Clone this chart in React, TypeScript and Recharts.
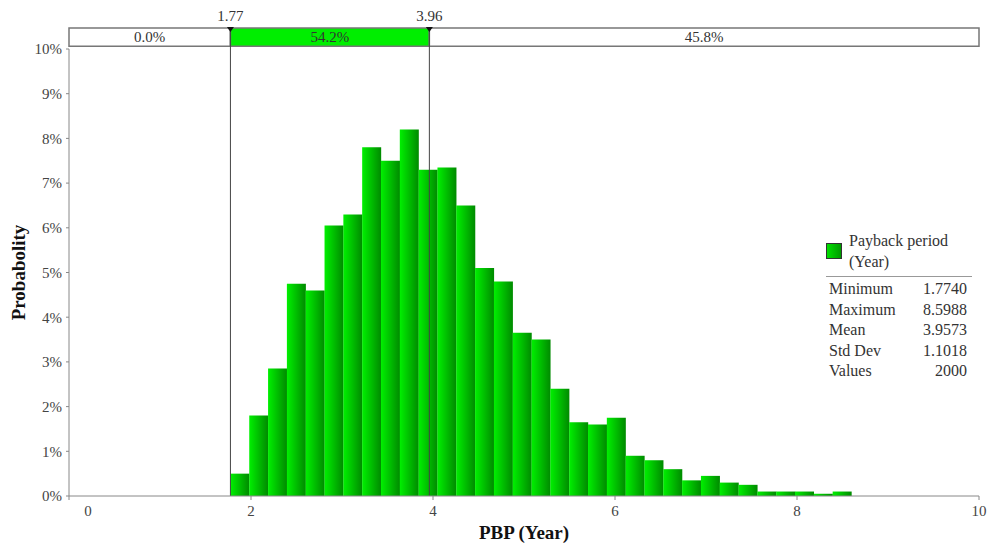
import {
  Bar,
  ComposedChart,
  Label,
  ReferenceArea,
  ReferenceLine,
  XAxis,
  YAxis,
} from "recharts";

// histogram bins (centre of each bin, in years) and share of the 2000 values (%)
const binCenters = [
  1.8774, 2.0842, 2.291, 2.4978, 2.7046, 2.9115, 3.1183, 3.3251, 3.5319, 3.7387,
  3.9455, 4.1523, 4.3591, 4.5659, 4.7727, 4.9796, 5.1864, 5.3932, 5.6, 5.8068,
  6.0136, 6.2204, 6.4272, 6.634, 6.8408, 7.0477, 7.2545, 7.4613, 7.6681, 7.8749,
  8.0817, 8.2885, 8.4953,
];
const probability = [
  0.5, 1.8, 2.85, 4.75, 4.6, 6.05, 6.3, 7.8, 7.5, 8.2,
  7.3, 7.35, 6.5, 5.1, 4.8, 3.65, 3.5, 2.4, 1.65, 1.6,
  1.75, 0.9, 0.8, 0.6, 0.35, 0.45, 0.3, 0.25, 0.1, 0.1,
  0.1, 0.05, 0.1,
];

const xTicks = [0, 2, 4, 6, 8, 10];
const yTicks = [0, 1, 2, 3, 4, 5, 6, 7, 8, 9, 10];

// delimiters on the top band
const markers = [1.774, 3.96];
const markerLabels = ["1.77", "3.96"];
const segmentEdges = [0, 1.774, 3.96, 10];
const segmentShares = ["0.0%", "54.2%", "45.8%"];

const statNames = ["Minimum", "Maximum", "Mean", "Std Dev", "Values"];
const statValues = ["1.7740", "8.5988", "3.9573", "1.1018", "2000"];

const serif = '"Liberation Serif", "Times New Roman", serif';
const bandBottom = 10.06;
const bandTop = 10.47;

const XTick = (props: any) => {
  const { x, y, payload } = props;
  // the first label sits off the y axis, like the original
  const dx = payload.value === 0 ? 19 : 0;
  return (
    <text x={x + dx} y={y} dy="0.71em" textAnchor="middle" fontFamily={serif} fontSize={15} fill="#444">
      {payload.value}
    </text>
  );
};

const MarkerLabel = (props: any) => {
  const { viewBox, value } = props;
  const x = viewBox.x;
  const y = viewBox.y;
  return (
    <g>
      <path d={`M${x - 3.5},${y - 1} L${x + 3.5},${y - 1} L${x},${y + 4} Z`} fill="#111" />
      <text x={x} y={y - 7} textAnchor="middle" fontFamily={serif} fontSize={15} fill="#333">
        {value}
      </text>
    </g>
  );
};

export default function App() {
  const data = binCenters.map((x, i) => ({ x, p: probability[i] }));

  return (
    <div style={{ position: "absolute", left: 0, top: 0, width: 989, height: 543, background: "#fff" }}>
      <ComposedChart
        width={989}
        height={543}
        data={data}
        margin={{ top: 49, right: 10, bottom: 0, left: 0 }}
        barCategoryGap={0}
        barGap={0}
      >
        <defs>
          <linearGradient id="binFill" x1="0" y1="0" x2="1" y2="0">
            <stop offset="0%" stopColor="#00f000" />
            <stop offset="100%" stopColor="#008a00" />
          </linearGradient>
        </defs>
        <XAxis
          type="number"
          dataKey="x"
          domain={[0, 10]}
          ticks={xTicks}
          allowDataOverflow
          height={47}
          stroke="#888"
          tickSize={4}
          tickMargin={5}
          tick={<XTick />}
        >
          <Label
            content={(p: any) => (
              <text
                x={p.viewBox.x + p.viewBox.width / 2}
                y={p.viewBox.y + 43}
                textAnchor="middle"
                fontFamily={serif}
                fontWeight="bold"
                fontSize={19}
                fill="#111"
              >
                PBP (Year)
              </text>
            )}
          />
        </XAxis>
        <YAxis
          domain={[0, 10]}
          ticks={yTicks}
          width={69}
          stroke="#888"
          tickSize={3}
          tickMargin={4}
          tickFormatter={(v: number) => `${v}%`}
          tick={{ fontFamily: serif, fontSize: 15, fill: "#444" }}
          allowDataOverflow
        >
          <Label
            content={(p: any) => {
              const cx = p.viewBox.x + 18;
              const cy = p.viewBox.y + p.viewBox.height / 2;
              return (
                <text
                  x={cx}
                  y={cy}
                  transform={`rotate(-90 ${cx} ${cy})`}
                  textAnchor="middle"
                  dominantBaseline="central"
                  fontFamily={serif}
                  fontWeight="bold"
                  fontSize={19}
                  fill="#111"
                >
                  Probabolity
                </text>
              );
            }}
          />
        </YAxis>
        <Bar dataKey="p" fill="url(#binFill)" isAnimationActive={false} />
        {segmentShares.map((share, i) => (
          <ReferenceArea
            key={share}
            x1={segmentEdges[i]}
            x2={segmentEdges[i + 1]}
            y1={bandBottom}
            y2={bandTop}
            ifOverflow="visible"
            fill={i === 1 ? "#00ee00" : "#fff"}
            fillOpacity={1}
            stroke="#777"
            strokeWidth={1.5}
            label={{ value: share, position: "center", fontFamily: serif, fontSize: 15, fill: "#333" }}
          />
        ))}
        {markers.map((m, i) => (
          <ReferenceLine
            key={m}
            segment={[
              { x: m, y: 0 },
              { x: m, y: bandTop },
            ]}
            ifOverflow="visible"
            stroke="#444"
            strokeWidth={1}
            label={<MarkerLabel value={markerLabels[i]} />}
          />
        ))}
      </ComposedChart>
      <div
        style={{
          position: "absolute",
          left: 826,
          top: 231,
          width: 146,
          fontFamily: serif,
          fontSize: 16,
          lineHeight: "20.5px",
          color: "#333",
        }}
      >
        <div style={{ display: "flex" }}>
          <div
            style={{
              width: 14,
              height: 14,
              marginTop: 12,
              marginRight: 7,
              border: "1px solid #333",
              background: "linear-gradient(to right, #00e000, #009a00)",
              flex: "none",
            }}
          />
          <div>
            Payback period
            <br />
            (Year)
          </div>
        </div>
        <div style={{ borderTop: "1.5px solid #999", marginTop: 4, marginBottom: 2 }} />
        {statNames.map((name, i) => (
          <div key={name} style={{ display: "flex", justifyContent: "space-between", padding: "0 5px 0 3px" }}>
            <span>{name}</span>
            <span>{statValues[i]}</span>
          </div>
        ))}
      </div>
    </div>
  );
}
